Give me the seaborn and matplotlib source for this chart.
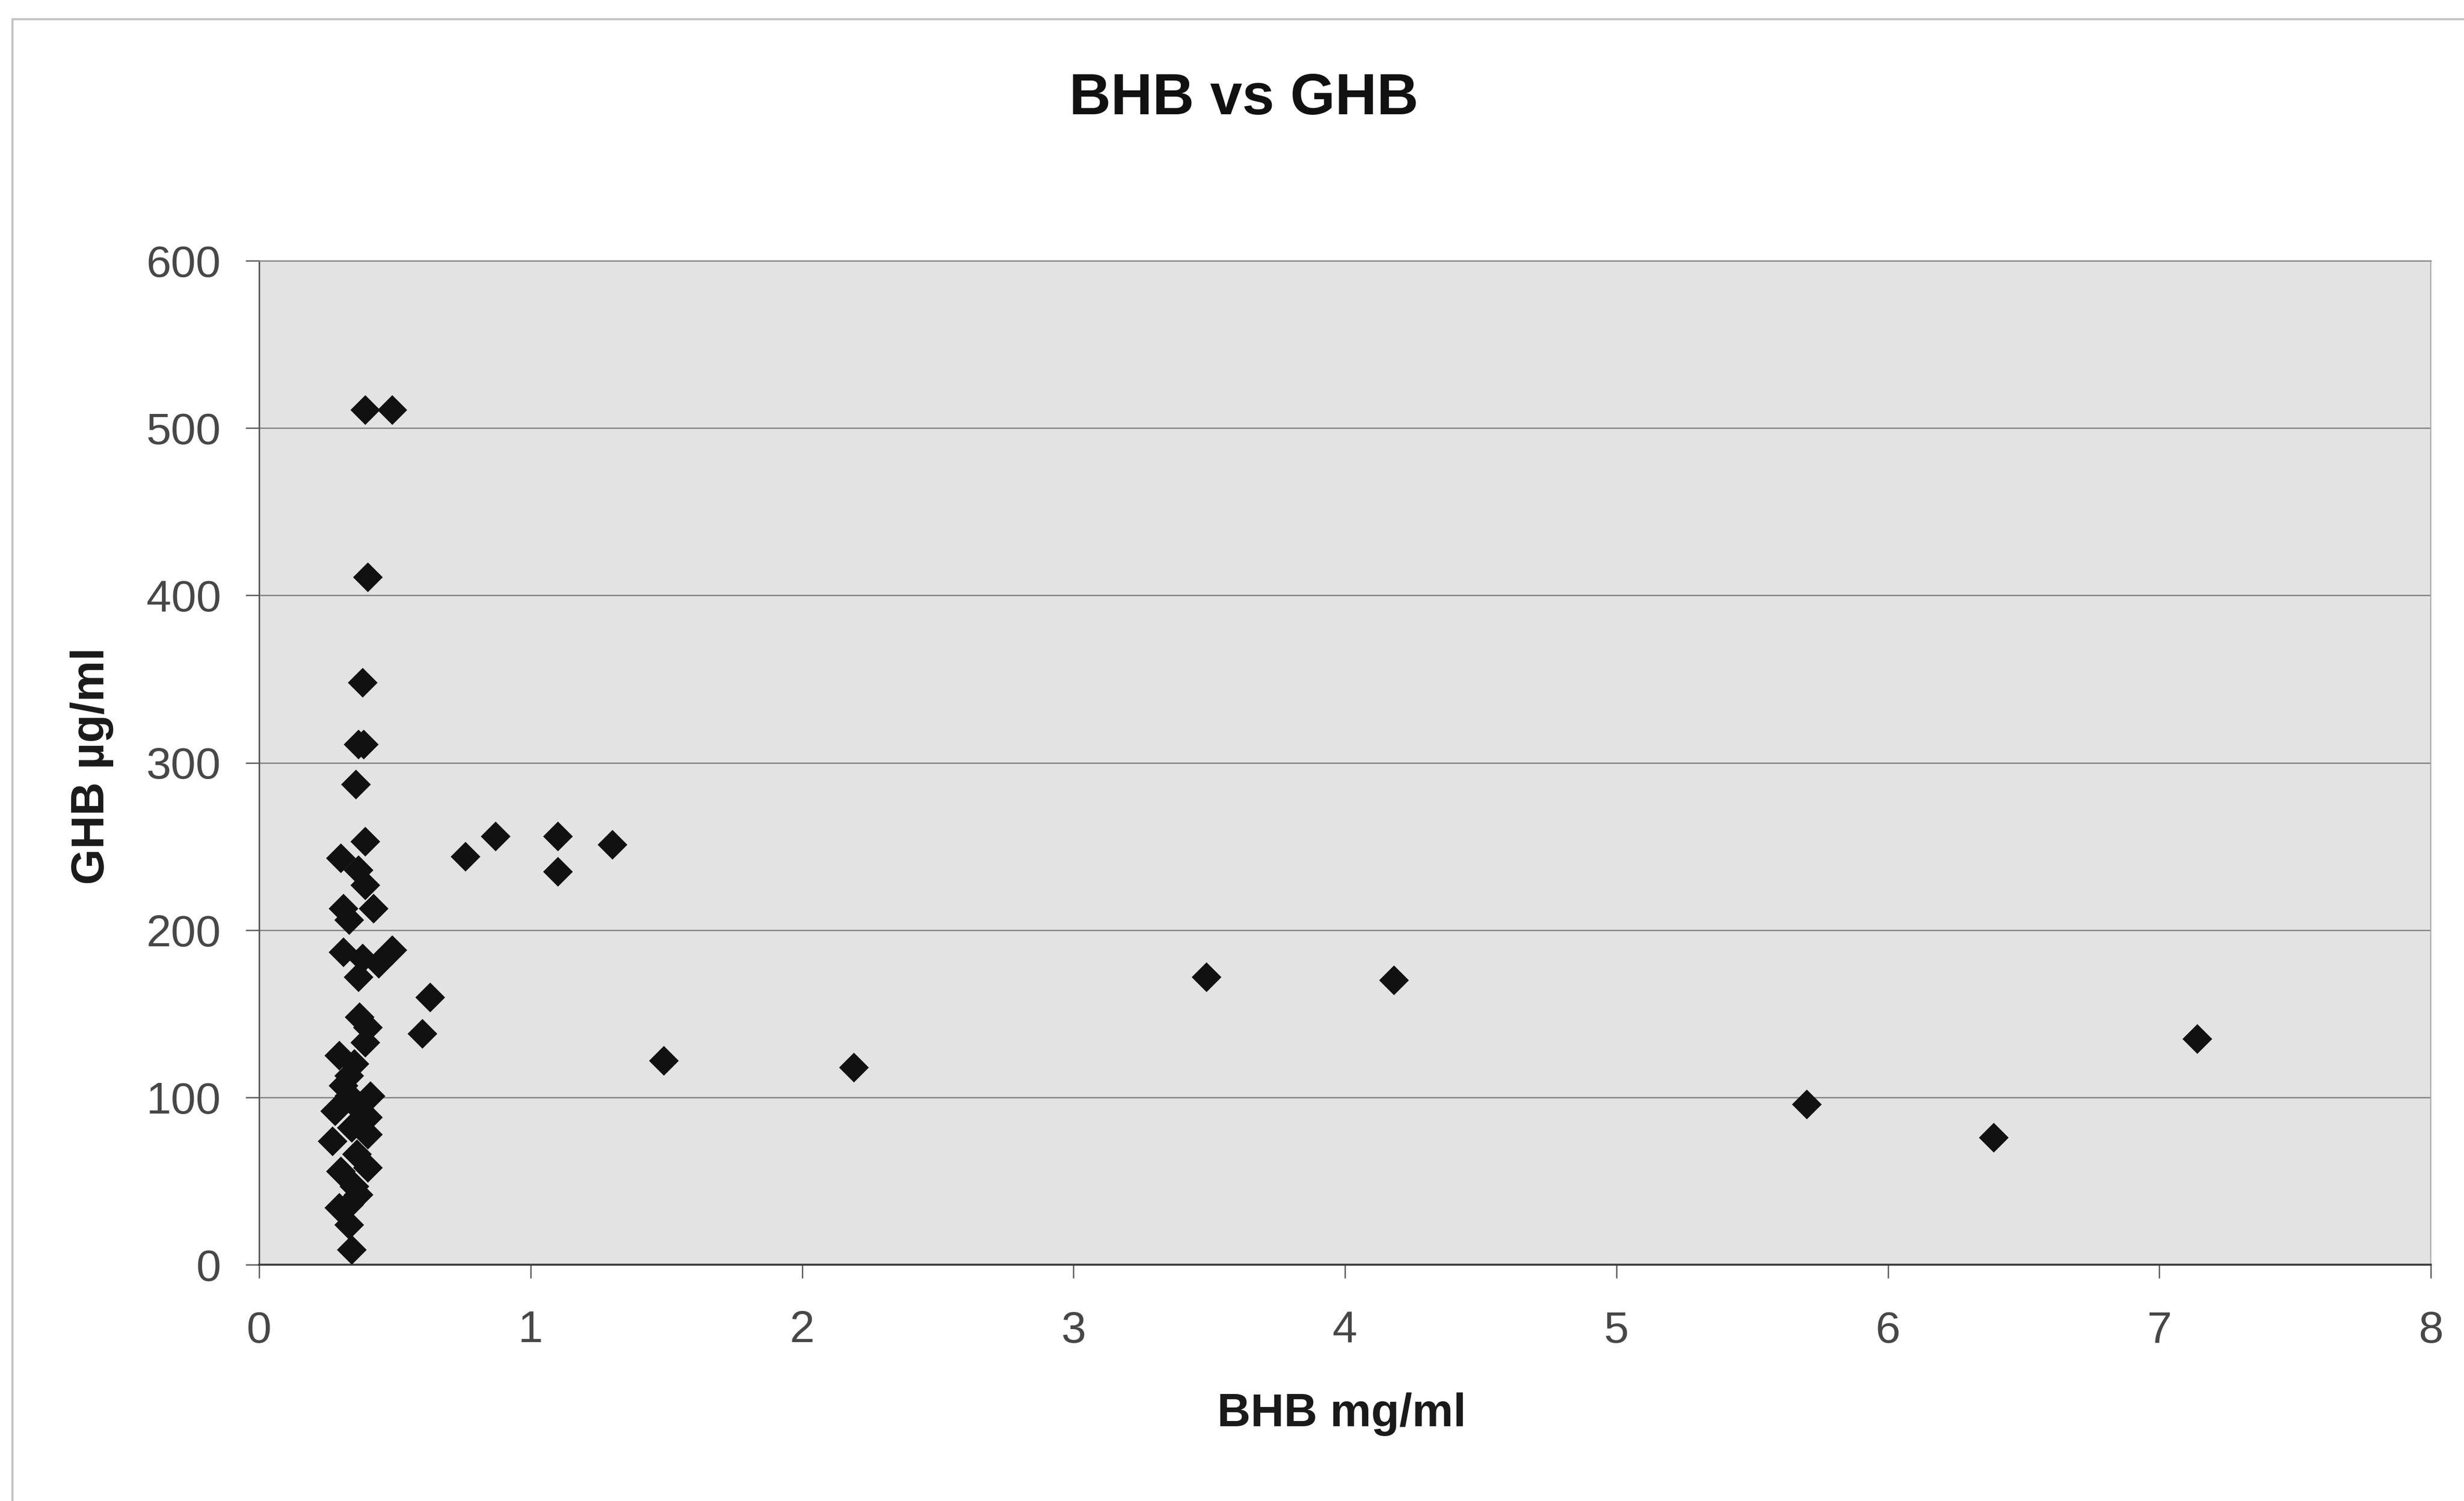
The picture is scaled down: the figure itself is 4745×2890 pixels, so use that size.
import matplotlib
matplotlib.use("Agg")
import matplotlib.pyplot as plt
from matplotlib.lines import Line2D
import seaborn as sns
import pandas as pd

# BHB (mg/ml) against GHB (µg/ml) for each sample
bhb = [0.39, 0.49, 0.40, 0.38, 0.365, 0.385, 0.355, 0.39,
       0.30, 0.365, 0.39, 0.31, 0.42, 0.33,
       0.31, 0.38, 0.49, 0.44, 0.365,
       0.63, 0.60,
       0.37, 0.40, 0.39, 0.295, 0.35, 0.33,
       0.31, 0.41, 0.28, 0.35, 0.40, 0.33, 0.37,
       0.27, 0.40, 0.34, 0.36,
       0.30, 0.40, 0.35, 0.33, 0.365, 0.295, 0.33, 0.34,
       0.76, 0.87, 1.10, 1.10, 1.30, 1.49, 2.19, 3.49, 4.18, 5.70, 6.39, 7.14]
ghb = [511, 511, 411, 348, 311, 311, 287, 253,
       243, 236, 227, 213, 213, 206,
       187, 183, 188, 180, 172,
       160, 138,
       148, 142, 133, 125, 120, 113,
       107, 101, 92, 98, 88, 101, 93,
       74, 78, 82, 66,
       56, 58, 47, 36, 42, 34, 24, 9,
       244, 256, 256, 235, 251, 122, 118, 172, 170, 96, 76, 135]

x_ticks = [0, 1, 2, 3, 4, 5, 6, 7, 8]
y_ticks = [0, 100, 200, 300, 400, 500, 600]

title = "BHB vs GHB"
x_label = "BHB mg/ml"
y_label = "GHB µg/ml"

df = pd.DataFrame({"BHB": bhb, "GHB": ghb})

sns.set_theme(style="white")
plt.rcParams["font.family"] = ["Liberation Sans", "DejaVu Sans"]

W, H = 4745, 2890
fig = plt.figure(figsize=(W / 100, H / 100), dpi=100)
fig.patch.set_facecolor("white")

left, right, top, bottom = 499, 4681, 502, 2435
ax = fig.add_axes([left / W, 1 - bottom / H, (right - left) / W, (bottom - top) / H])
ax.set_facecolor("#e3e3e3")

sns.scatterplot(data=df, x="BHB", y="GHB", marker="D", s=850, color="#111111",
                linewidth=0, ax=ax, zorder=3, legend=False)

ax.set_xlim(0, 8)
ax.set_ylim(0, 600)
ax.set_xticks(x_ticks)
ax.set_yticks(y_ticks)
ax.set_xlabel("")
ax.set_ylabel("")

ax.yaxis.grid(True, color="#808080", linewidth=1.8)
ax.xaxis.grid(False)
ax.set_axisbelow(True)

for side, col, lw in [("left", "#5a5a5a", 2.2), ("bottom", "#404040", 2.8),
                      ("top", "#8c8c8c", 1.8), ("right", "#a8a8a8", 1.6)]:
    ax.spines[side].set_visible(True)
    ax.spines[side].set_color(col)
    ax.spines[side].set_linewidth(lw)

ax.tick_params(axis="both", which="major", direction="out", length=19, width=1.8,
               color="#555555", labelsize=62, labelcolor="#474747")
ax.tick_params(axis="y", pad=34, left=True)
ax.tick_params(axis="x", pad=44, bottom=True)

fig.text(2395 / W, 1 - 191 / H, title, ha="center", va="center",
         fontsize=80, fontweight="bold", color="#111111")
fig.text(2584 / W, 1 - 2723 / H, x_label, ha="center", va="center",
         fontsize=64, fontweight="bold", color="#1a1a1a")
fig.text(177 / W, 1 - 1475 / H, y_label, ha="center", va="center", rotation=90,
         fontsize=64, fontweight="bold", color="#1a1a1a")

# chart-area frame (left and top edges)
fig.add_artist(Line2D([24 / W, 24 / W], [0, 1 - 37 / H], transform=fig.transFigure,
                      color="#c4c4c4", linewidth=3))
fig.add_artist(Line2D([24 / W, 1], [1 - 37 / H, 1 - 37 / H], transform=fig.transFigure,
                      color="#c4c4c4", linewidth=3))

fig.savefig("out.png", dpi=100, facecolor="white")
